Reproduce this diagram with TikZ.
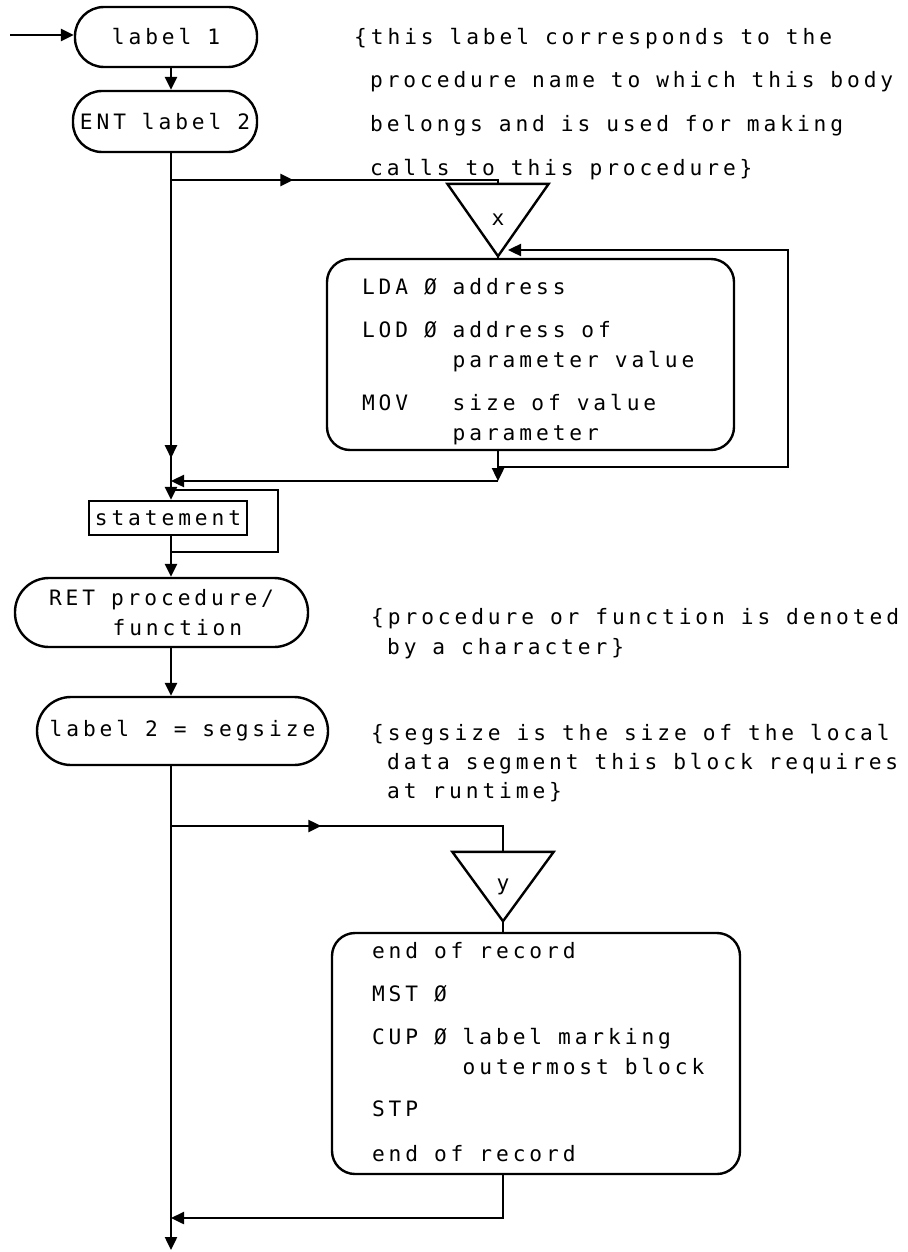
\documentclass[tikz,border=0pt]{standalone}
\usepackage{fontspec}
\setmainfont{DejaVu Sans Mono}[LetterSpace=18.5]
\usepackage{tikz}
\usetikzlibrary{positioning, arrows.meta, decorations.markings, calc}
\newcommand{\plotterfont}[1]{\fontsize{10.6}{#1}\selectfont
  \fontdimen2\font=7.95pt\relax
  \fontdimen3\font=0pt\relax
  \fontdimen4\font=0pt\relax}
\tikzset{
  terminal/.style={
    draw,
    rectangle,
    rounded corners=14.5pt,
    inner sep=0pt,
    align=left
  },
  codeblock/.style={
    draw,
    rectangle,
    rounded corners=11.5pt,
    inner ysep=0pt
  },
  stmtbox/.style={
    draw,
    rectangle,
    inner sep=0pt,
    minimum width=79pt,
    minimum height=17pt
  },
  tribox/.style={
    inner sep=0pt,
    minimum width=49.5pt,
    minimum height=35pt
  },
  note/.style={
    inner sep=0pt,
    align=left,
    anchor=base west
  },
  flow/.style={
    -{Triangle[length=6.5pt, width=6pt]}
  },
  midarrow/.style={
    postaction={decorate},
    decoration={markings, mark=at position #1 with {\arrow{Triangle[length=6.5pt, width=6pt]}}}
  }
}
\begin{document}
\begin{tikzpicture}[x=0.5pt, y=-0.5pt, line width=1.2pt, font=\plotterfont{15}]
    \useasboundingbox (0,0) rectangle (908,1252);
    \coordinate (trunk) at (171,0);

    \node[terminal, minimum width=91pt, minimum height=30pt] (lab1) at (166,37) {label 1};
    \node[terminal, minimum width=92pt, minimum height=30.5pt] (ent) at (165,121.5) {ENT label 2};
    \node[tribox] (trix) at (498,220) {x};
    \node[codeblock, minimum height=95.5pt, inner xsep=17.5pt] (blkx) at (530.5,354.5) {%
      \makebox[168.5pt][l]{\raisebox{-3.5pt}[\height][\depth]{%
      \begin{tabular}{@{}l@{~}l@{~}l@{}}
        LDA & Ø & address\\[6.5pt]
        LOD & Ø & address of\\
            &   & parameter value\\[6.5pt]
        MOV &   & size of value\\
            &   & parameter
      \end{tabular}}}};
    \node[stmtbox] (stmt) at (168,518) {statement};
    \node[terminal, rounded corners=17pt, minimum width=146.5pt, minimum height=34.5pt] (ret) at (161.5,612.5) {RET procedure/\\~~~~function};
    \node[terminal, rounded corners=17pt, minimum width=145.5pt, minimum height=34pt] (lab2) at (182.5,731) {label 2 = segsize};
    \node[tribox, minimum height=33.5pt] (triy) at (503,886.5) {y};
    \node[codeblock, minimum height=120.5pt, inner xsep=20pt] (blky) at (536,1053.5) {%
      \makebox[164pt][l]{%
      \begin{tabular}{@{}l@{~}l@{~}l@{}}
        \multicolumn{3}{@{}l@{}}{end of record}\\[6.5pt]
        MST & Ø & \\[6.5pt]
        CUP & Ø & label marking\\
            &   & outermost block\\[6pt]
        STP &   & \\[7.5pt]
        \multicolumn{3}{@{}l@{}}{end of record}
      \end{tabular}}};

    \node[note, font=\plotterfont{22}] (rem1) at (353,176) {\{this label corresponds to t\kern2pt he\\~procedure name to which this body\\~belongs and is used for making\\~calls to this procedure\}};
    \node[note] (rem2) at (370,654) {\{procedure or function is denoted\\~by a character\}};
    \node[note, font=\plotterfont{14.5}] (rem3) at (370,798) {\{segsize is the size of the local\\~data segment this block requires\\~at runtime\}};

    \draw (trix.north west) -- (trix.north east) -- (trix.south) -- cycle;
    \draw (triy.north west) -- (triy.north east) -- (triy.south) -- cycle;

    \coordinate (in) at (10,35);
    \coordinate (fork1) at (171,180);
    \coordinate (xjoin) at (498,481);
    \coordinate (xloop) at (788,467);
    \coordinate (xback) at (508,250);
    \coordinate (sloop) at (278,552);
    \coordinate (sback) at (278,490);
    \coordinate (fork2) at (171,826);
    \coordinate (yjoin) at (503,1218);
    \coordinate (out) at (171,1250);

    \draw[flow] (in) -- (in -| lab1.west);
    \draw[flow] (lab1.south -| trunk) -- (ent.north -| trunk);
    \draw[flow, midarrow=0.88] (ent.south -| trunk) -- (stmt.north -| trunk);
    \draw[midarrow=0.37] (fork1) -- (fork1 -| trix) -- (trix.north);
    \draw (trix.south) -- (trix.south |- blkx.north);
    \draw[flow] (blkx.south -| trix) -- (xjoin);
    \draw[flow] (xjoin) -- (xjoin -| trunk);
    \draw[flow] (xloop -| trix) -- (xloop) -- (xloop |- xback) -- (xback);
    \draw (sloop -| trunk) -- (sloop) -- (sback) -- (sback -| trunk);
    \draw[flow] (stmt.south -| trunk) -- (ret.north -| trunk);
    \draw[flow] (ret.south -| trunk) -- (lab2.north -| trunk);
    \draw[flow] (lab2.south -| trunk) -- (out);
    \draw[midarrow=0.42] (fork2) -- (fork2 -| triy) -- (triy.north);
    \draw (triy.south) -- (triy.south |- blky.north);
    \draw[flow] (blky.south -| triy) -- (yjoin) -- (yjoin -| trunk);
\end{tikzpicture}
\end{document}
